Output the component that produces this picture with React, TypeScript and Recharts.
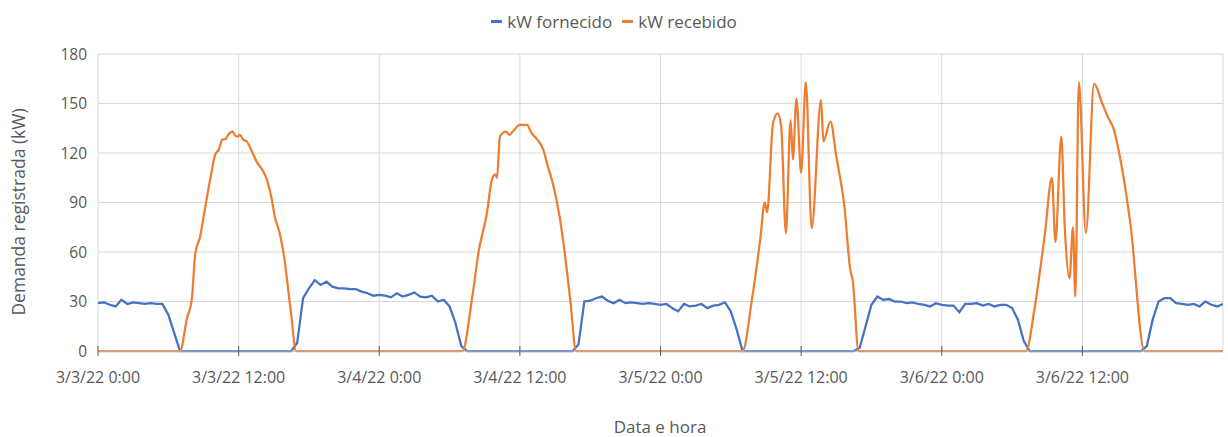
import { CartesianGrid, Line, LineChart, XAxis, YAxis } from "recharts"

// horas desde 3/3/22 0:00
const STEP_H = 0.5

// kW fornecido, amostras a cada meia hora (0 h ... 96 h)
const kwFornecido = [
  29, 29.5, 28, 27, 31, 28.5, 29.5, 29, 28.5, 29, 28.5, 28.5, 22, 11, 0,
  0, 0, 0, 0, 0, 0, 0, 0, 0, 0, 0, 0, 0, 0, 0, 0, 0, 0, 0,
  5, 32, 38, 43, 40, 42, 39, 38, 38, 37.5, 37.5, 36, 35, 33.5, 34, 33.5, 32.5, 35, 33, 34, 35.5, 33, 32.5, 33.5, 30, 31, 27, 17, 3,
  0, 0, 0, 0, 0, 0, 0, 0, 0, 0, 0, 0, 0, 0, 0, 0, 0, 0, 0,
  4, 30, 30.5, 32, 33, 30.5, 29, 31, 29, 29.5, 29, 28.5, 29, 28.5, 28, 28.5, 26, 24, 28.5, 27, 27.5, 28.5, 26, 27.5, 28, 29.5, 24, 13, 0,
  0, 0, 0, 0, 0, 0, 0, 0, 0, 0, 0, 0, 0, 0, 0, 0, 0, 0, 0,
  2, 15, 28, 33, 31, 31.5, 30, 30, 29, 29.5, 28.5, 28, 27, 29, 28, 27.5, 27.5, 23.5, 28.5, 28.5, 29, 27.5, 28.5, 27, 28, 28, 26, 19, 6,
  0, 0, 0, 0, 0, 0, 0, 0, 0, 0, 0, 0, 0, 0, 0, 0, 0, 0, 0, 0,
  3, 19, 30, 32, 32, 29, 28.5, 28, 28.5, 27, 30, 28, 27, 28.5,
]

// kW recebido, vertices
const hoursRecebido = [
  0, 7.0, 7.6, 8.0, 8.3, 8.7, 9.1, 9.6, 10.0, 10.3, 10.6, 10.9, 11.1, 11.5, 11.7, 11.9, 12.1, 12.4, 12.7, 13.0, 13.6, 14.0, 14.4, 14.8, 15.1, 15.5, 16.0, 16.2, 16.5, 16.9,
  31.1, 31.9, 32.5, 33.2, 33.6, 33.9, 34.05, 34.3, 34.8, 35.1, 35.4, 36.0, 36.6, 37.0, 37.5, 38.0, 38.4, 38.8, 39.4, 39.8, 40.3, 40.8,
  55.0, 55.8, 56.5, 56.9, 57.1, 57.6, 58.0, 58.3, 58.7, 59.1, 59.3, 59.6, 60.0, 60.4, 60.9, 61.7, 61.9, 62.5, 63.0, 63.7, 64.2, 64.4, 64.9,
  79.2, 79.9, 80.8, 81.4, 81.7, 82.2, 82.5, 82.9, 83.2, 83.4, 83.7, 84.3, 85.0, 85.7, 86.3, 86.6, 87.4, 88.1, 89.3, 96,
]
const kwRecebido = [
  0, 0, 20, 31, 59, 69, 85, 105, 119, 122, 128, 128.5, 131, 133, 130.5, 130, 131, 128, 127, 123, 114, 110, 104, 93, 81, 71.5, 51, 39, 21, 0,
  0, 31, 61, 84, 103.5, 107, 105, 130, 133, 131, 133, 137, 137, 132, 128, 122, 111.5, 102, 81, 61, 31, 0,
  0, 31, 67, 90, 84, 138, 144, 136, 71.5, 140, 116, 153, 108, 163, 74.5, 152, 127, 139, 118, 87, 49, 43, 0,
  0, 25, 71, 105, 66, 130, 75, 44, 75, 33, 163, 71.5, 162, 150, 140, 136, 110, 77, 0, 0,
]

const xTicks = [0, 12, 24, 36, 48, 60, 72, 84]
const xTickLabels = [
  "3/3/22 0:00",
  "3/3/22 12:00",
  "3/4/22 0:00",
  "3/4/22 12:00",
  "3/5/22 0:00",
  "3/5/22 12:00",
  "3/6/22 0:00",
  "3/6/22 12:00",
]
const yTicks = [0, 30, 60, 90, 120, 150, 180]

const BLUE = "#4472C4"
const ORANGE = "#ED7D31"
const TEXT = "#595959"
const FONT = "'Open Sans', 'Noto Sans', sans-serif"

const fornecidoData = kwFornecido.map((kw, i) => ({ hour: i * STEP_H, kw }))
const recebidoData = hoursRecebido.map((hour, i) => ({ hour, kw: kwRecebido[i] }))

function DateTick({ x, y, payload }: any) {
  const label = xTickLabels[xTicks.indexOf(payload.value)]
  return (
    <g>
      <line x1={x} x2={x} y1={y - 5} y2={y + 5} stroke={TEXT} strokeWidth={1} />
      <text x={x} y={y + 32} textAnchor="middle" fill={TEXT} fontSize={16} fontFamily={FONT}>
        {label}
      </text>
    </g>
  )
}

function LegendItem({ color, label }: { color: string; label: string }) {
  return (
    <span style={{ display: "inline-flex", alignItems: "center", margin: "0 5px" }}>
      <span style={{ display: "inline-block", width: 11, height: 3, background: color, marginRight: 5 }} />
      {label}
    </span>
  )
}

export default function App() {
  return (
    <div
      style={{
        position: "absolute",
        left: 0,
        top: 0,
        width: 1228,
        height: 437,
        overflow: "hidden",
        background: "#fff",
        fontFamily: FONT,
        color: TEXT,
      }}
    >
      <div
        style={{
          position: "absolute",
          top: 6,
          left: 0,
          width: 1228,
          textAlign: "center",
          fontSize: 17,
          lineHeight: "22px",
        }}
      >
        <LegendItem color={BLUE} label="kW fornecido" />
        <LegendItem color={ORANGE} label="kW recebido" />
      </div>

      <LineChart width={1228} height={437} margin={{ top: 54, right: 5, bottom: 0, left: 0 }}>
        <CartesianGrid stroke="#d9d9d9" strokeWidth={1} />
        <XAxis
          type="number"
          dataKey="hour"
          domain={[0, 96]}
          ticks={xTicks}
          interval={0}
          height={86}
          tickSize={0}
          tickMargin={0}
          tickLine={false}
          axisLine={{ stroke: "#bfbfbf" }}
          tick={<DateTick />}
          allowDataOverflow
        />
        <YAxis
          type="number"
          domain={[0, 180]}
          ticks={yTicks}
          width={98}
          tickSize={0}
          tickMargin={11}
          tickLine={false}
          axisLine={false}
          tick={{ fill: TEXT, fontSize: 15.5, fontFamily: FONT }}
        />
        <Line
          data={fornecidoData}
          dataKey="kw"
          name="kW fornecido"
          type="linear"
          stroke={BLUE}
          strokeWidth={2.25}
          dot={false}
          isAnimationActive={false}
        />
        <Line
          data={recebidoData}
          dataKey="kw"
          name="kW recebido"
          type="monotone"
          stroke={ORANGE}
          strokeWidth={2.25}
          dot={false}
          isAnimationActive={false}
        />
      </LineChart>

      <div
        style={{
          position: "absolute",
          left: 18,
          top: 212,
          transform: "translate(-50%, -50%) rotate(-90deg)",
          whiteSpace: "nowrap",
          fontSize: 17.5,
          lineHeight: "20px",
        }}
      >
        Demanda registrada (kW)
      </div>
      <div
        style={{
          position: "absolute",
          left: 660,
          top: 427,
          transform: "translate(-50%, -50%)",
          whiteSpace: "nowrap",
          fontSize: 17,
          lineHeight: "18px",
        }}
      >
        Data e hora
      </div>
    </div>
  )
}
